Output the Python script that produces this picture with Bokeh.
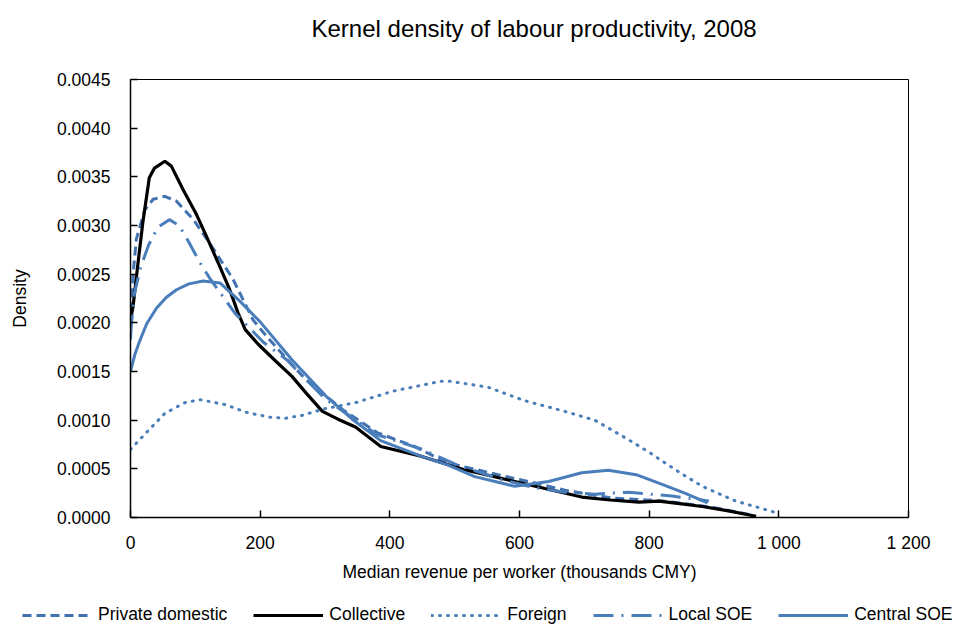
from bokeh.plotting import figure
from bokeh.models import FixedTicker, Legend, LegendItem, Range1d, Title
from bokeh.layouts import column, row
from bokeh.embed import file_html
from bokeh.resources import INLINE

FONT = "Liberation Sans"
BLUE = "#4A7EBB"
DARKBLUE = "#4272B0"

title_text = "Kernel density of labour productivity, 2008"
x_label = "Median revenue per worker (thousands CMY)"
y_label = "Density"

x_ticks = [0, 200, 400, 600, 800, 1000, 1200]
x_tick_labels = ["0", "200", "400", "600", "800", "1 000", "1 200"]
y_ticks = [0.0, 0.0005, 0.001, 0.0015, 0.002, 0.0025, 0.003, 0.0035, 0.004, 0.0045]
y_tick_labels = ["0.0000", "0.0005", "0.0010", "0.0015", "0.0020", "0.0025",
                 "0.0030", "0.0035", "0.0040", "0.0045"]

series_names = ["Private domestic", "Collective", "Foreign", "Local SOE", "Central SOE"]

private_x = [0, 4, 9, 22, 35, 53, 71, 97, 122, 158, 189, 210, 241, 270, 303, 327, 381, 438,
             489, 567, 620, 670, 743, 820, 870, 910, 955]
private_y = [0.00183, 0.0025, 0.00286, 0.00316, 0.00327, 0.0033, 0.00325, 0.00306, 0.00282,
             0.00245, 0.00203, 0.00186, 0.00163, 0.00142, 0.00124, 0.00111, 0.00087, 0.00073,
             0.00056, 0.00044, 0.00036, 0.00028, 0.0002, 0.00017, 0.00013, 0.00009, 0.00003]

collective_x = [0, 4, 11, 19, 29, 37, 53, 63, 81, 102, 117, 135, 153, 166, 177, 197, 225,
                249, 272, 296, 320, 347, 386, 448, 515, 593, 644, 696, 740, 784, 815, 850,
                882, 920, 965]
collective_y = [0.00203, 0.00217, 0.00258, 0.00303, 0.00349, 0.00359, 0.00366, 0.00361,
                0.00337, 0.00311, 0.00289, 0.00262, 0.00234, 0.0021, 0.00193, 0.00178,
                0.0016, 0.00145, 0.00127, 0.00109, 0.00101, 0.00093, 0.00073, 0.00063,
                0.00049, 0.00037, 0.00029, 0.00021, 0.00018, 0.000157, 0.000168, 0.00014,
                0.000113, 0.00007, 0.000013]

foreign_x = [0, 27, 53, 84, 108, 146, 179, 215, 239, 265, 301, 347, 406, 443, 479, 492, 551,
             608, 670, 716, 768, 800, 820, 850, 882, 933, 988, 1000]
foreign_y = [0.0007, 0.00089, 0.00107, 0.00118, 0.00121, 0.00116, 0.00108, 0.00103, 0.00102,
             0.00105, 0.00112, 0.00118, 0.0013, 0.00135, 0.0014, 0.0014, 0.00134, 0.0012,
             0.00109, 0.001, 0.0008, 0.00067, 0.00058, 0.00045, 0.00032, 0.00017, 0.000065,
             0.00004]

local_x = [0, 6, 16, 28, 42, 60, 75, 89, 107, 122, 135, 161, 205, 241, 300, 381, 450, 500,
           567, 620, 670, 716, 768, 835, 892]
local_y = [0.00188, 0.0023, 0.00258, 0.0028, 0.00298, 0.00306, 0.003, 0.00284, 0.00262,
           0.00246, 0.00234, 0.0021, 0.0018, 0.00162, 0.00122, 0.00085, 0.0007, 0.00055,
           0.0004, 0.00031, 0.00026, 0.00024, 0.00026, 0.00022, 0.00017]

central_x = [0, 7, 14, 25, 40, 55, 71, 90, 112, 138, 169, 200, 249, 301, 342, 386, 448,
             489, 531, 593, 645, 696, 737, 780, 820, 855, 890]
central_y = [0.0015, 0.00168, 0.00181, 0.00199, 0.00215, 0.00226, 0.00234, 0.0024, 0.00243,
             0.00241, 0.00222, 0.00201, 0.00162, 0.00125, 0.00101, 0.00079, 0.00063,
             0.00054, 0.00042, 0.00032, 0.00037, 0.00046, 0.000486, 0.00044, 0.00034,
             0.00025, 0.00015]

series = [
    (private_x, private_y, dict(line_color=DARKBLUE, line_width=3, line_dash="9 5")),
    (collective_x, collective_y, dict(line_color="black", line_width=3.2)),
    (foreign_x, foreign_y, dict(line_color=BLUE, line_width=3, line_dash="1 7", line_cap="round")),
    (local_x, local_y, dict(line_color=BLUE, line_width=3, line_dash="20 8 2 8")),
    (central_x, central_y, dict(line_color=BLUE, line_width=3)),
]

# ---- main chart ----
p = figure(frame_width=778, frame_height=438, title=None,
           output_backend="svg", toolbar_location=None,
           min_border_left=130, min_border_right=52, min_border_top=79, min_border_bottom=80)
p.x_range = Range1d(0, 1200)
p.y_range = Range1d(0, 0.0045)

spacer = Title(text=" ", text_font=FONT, text_font_size="20px", standoff=5)
p.add_layout(spacer, "above")
main_title = Title(text=title_text, text_font=FONT, text_font_size="24px",
                   text_font_style="normal", text_color="black", align="left", offset=181,
                   vertical_align="top", standoff=14)
p.add_layout(main_title, "above")

p.xgrid.visible = False
p.ygrid.visible = False
p.outline_line_color = "black"
p.outline_line_width = 1

for ax in (p.xaxis[0], p.yaxis[0]):
    ax.axis_line_color = "black"
    ax.axis_line_width = 1.5
    ax.major_tick_line_color = "black"
    ax.major_tick_line_width = 1.5
    ax.major_tick_in = 7
    ax.major_tick_out = 0
    ax.minor_tick_line_color = None
    ax.major_label_text_font = FONT
    ax.major_label_text_font_size = "17.5px"
    ax.major_label_text_color = "black"
    ax.axis_label_text_font = FONT
    ax.axis_label_text_font_size = "17.5px"
    ax.axis_label_text_font_style = "normal"
    ax.axis_label_text_color = "black"

p.xaxis.ticker = FixedTicker(ticks=x_ticks)
p.xaxis.major_label_overrides = dict(zip(x_ticks, x_tick_labels))
p.xaxis.axis_label = x_label
p.xaxis.major_label_standoff = 15
p.xaxis.axis_label_standoff = 6

p.yaxis.ticker = FixedTicker(ticks=y_ticks)
p.yaxis.major_label_overrides = dict(zip(y_ticks, y_tick_labels))
p.yaxis.axis_label = y_label
p.yaxis.major_label_standoff = 20
p.yaxis.axis_label_standoff = 24

for xs, ys, style in series:
    p.line(xs, ys, **style)

# ---- legend strip below the chart (its own lines lie outside its view) ----
pl = figure(width=960, height=28, output_backend="svg", toolbar_location=None,
            x_axis_location=None, y_axis_location=None, min_border=0,
            x_range=Range1d(-20, -10), y_range=Range1d(0, 0.0045))
pl.outline_line_color = None
pl.xgrid.visible = False
pl.ygrid.visible = False
legend_renderers = [pl.line(xs, ys, **style) for xs, ys, style in series]
legend = Legend(items=[LegendItem(label=n, renderers=[r])
                       for n, r in zip(series_names, legend_renderers)],
                orientation="horizontal", location=(22, 0),
                glyph_width=70, glyph_height=20, label_standoff=6, spacing=26,
                padding=0, margin=0, border_line_alpha=0, background_fill_alpha=0,
                label_text_font=FONT, label_text_font_size="17.5px", label_text_color="black")
pl.add_layout(legend)

for fig in (p, pl):
    if "frame_align" in fig.properties():
        fig.frame_align = False

layout = column(p, row(pl))
open("out.html", "w").write(file_html(layout, INLINE))
